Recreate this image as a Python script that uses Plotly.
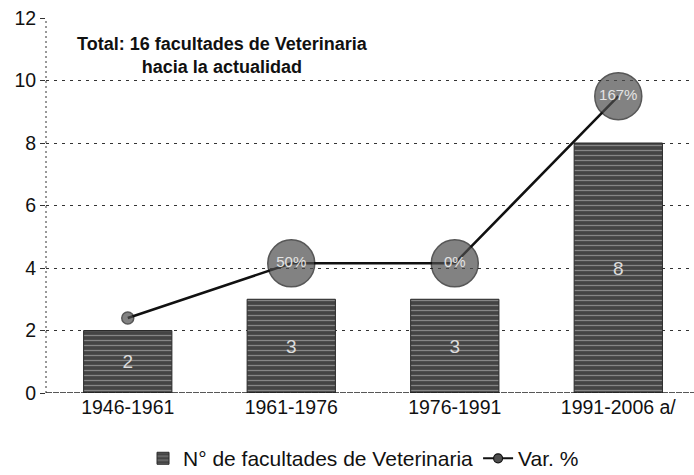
import plotly.graph_objects as go

# Periods and number of veterinary faculties created in each
periods = ["1946-1961", "1961-1976", "1976-1991", "1991-2006 a/"]
faculties = [2, 3, 3, 8]

# Variation series: plotted height and the percentage shown on each point
var_height = [2.4, 4.15, 4.15, 9.5]
var_labels = ["", "50%", "0%", "167%"]
var_marker_size = [12, 47, 47, 47]

y_ticks = [0, 2, 4, 6, 8, 10, 12]

FONT = "Liberation Sans, Arial, sans-serif"

fig = go.Figure()

fig.add_trace(go.Bar(
    x=periods, y=faculties,
    name="N° de facultades de Veterinaria",
    width=0.54,
    marker=dict(
        color="#555555",
        line=dict(color="#2a2a2a", width=1),
        pattern=dict(shape="-", fgcolor="#c8c8c8", bgcolor="#444444",
                     size=5, solidity=0.25),
    ),
    text=[str(v) for v in faculties],
    textposition="inside",
    insidetextanchor="middle",
    textfont=dict(color="#dddddd", size=19, family=FONT),
))

# Variation line (legend entry drawn by a separate, smaller-marker trace)
fig.add_trace(go.Scatter(
    x=periods, y=var_height,
    mode="lines+markers",
    line=dict(color="#111111", width=2.5),
    marker=dict(size=var_marker_size, color="#4e4e4e",
                line=dict(color="#111111", width=1.5)),
    showlegend=False,
))

fig.add_trace(go.Scatter(
    x=periods, y=var_height,
    mode="text",
    text=var_labels,
    textposition="middle center",
    textfont=dict(color="#e4e4e4", size=15, family=FONT),
    showlegend=False,
    hoverinfo="skip",
))

fig.add_trace(go.Scatter(
    x=[None], y=[None],
    name="Var. %",
    mode="lines+markers",
    line=dict(color="#111111", width=2),
    marker=dict(size=9, color="#4e4e4e", line=dict(color="#111111", width=1.2)),
))

# Dashed vertical axis line and baseline
fig.add_shape(type="line", xref="paper", yref="y", x0=0, x1=0, y0=0, y1=12,
              line=dict(color="#333333", width=1, dash="2px,3px"))
fig.add_shape(type="line", xref="paper", yref="y", x0=0, x1=1, y0=0, y1=0,
              line=dict(color="#222222", width=1.5, dash="6px,1px"))

fig.add_annotation(
    x=0.273, y=10.8, xref="paper", yref="y", xanchor="center", yanchor="middle",
    text="<b>Total: 16 facultades de Veterinaria<br>hacia la actualidad</b>",
    showarrow=False, align="center",
    font=dict(size=18, color="#111111", family=FONT),
)

fig.update_layout(
    width=694, height=475,
    margin=dict(l=46, r=0, t=18, b=82, autoexpand=False),
    paper_bgcolor="white", plot_bgcolor="white",
    font=dict(family=FONT, color="#111111"),
    showlegend=True,
    legend=dict(orientation="h", x=0.49, xanchor="center", y=-0.175,
                yanchor="middle", font=dict(size=21, family=FONT),
                bgcolor="rgba(0,0,0,0)", traceorder="normal"),
    xaxis=dict(
        range=[-0.5, 3.463],
        showgrid=False, showline=False, zeroline=False,
        ticks="", tickfont=dict(size=19.5, family=FONT, color="#111111"),
    ),
    yaxis=dict(
        range=[0, 12], tickvals=y_ticks,
        showgrid=True, gridcolor="#333333", gridwidth=1, griddash="3px,5px",
        zeroline=False, showline=False,
        ticks="outside", ticklen=5, tickcolor="#333333",
        tickfont=dict(size=19.5, family=FONT, color="#111111"),
    ),
)

fig.write_html("out.html")
